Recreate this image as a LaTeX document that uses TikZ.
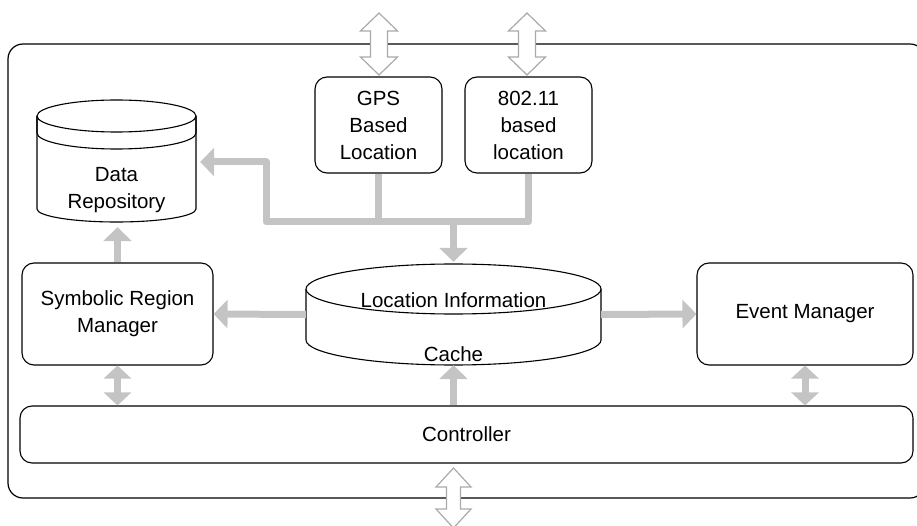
\documentclass[tikz,border=0pt]{standalone}
\usepackage{fontspec}
\setmainfont{Liberation Sans}
\usetikzlibrary{arrows.meta}
\definecolor{lgray}{RGB}{196,196,196}
\definecolor{ogray}{RGB}{170,170,170}
\begin{document}
\begin{tikzpicture}[x=1pt,y=-1pt,
  txt/.style={font=\fontsize{20.5}{27}\selectfont, align=center, inner sep=0pt},
  box/.style={draw, line width=1.1pt, rounded corners=12pt, fill=white, txt},
  ghost/.style={inner sep=0pt, draw=none},
  gline/.style={draw=lgray, line width=7pt, line join=round},
  garrow/.style={gline, -{Triangle[width=28pt,length=14pt]}},
  gdarrow/.style={gline, {Triangle[width=27pt,length=13pt]}-{Triangle[width=27pt,length=13pt]}},
  hollow/.style={draw=ogray, line width=1.2pt, fill=white, line join=miter}
]
\useasboundingbox (0,0) rectangle (917,526);

% outer frame
\draw[line width=1.2pt, rounded corners=15pt] (8,44) rectangle (925,498);

% nodes
\node[box, minimum width=127pt, minimum height=96pt] (gps) at (378.5,125) {GPS\\Based\\Location};
\node[box, minimum width=127pt, minimum height=96pt] (wifi) at (528.5,125) {802.11\\based\\location};
\node[box, minimum width=191pt, minimum height=102pt] (srm) at (117.5,314) {Symbolic Region\\Manager};
\node[box, minimum width=216pt, minimum height=102pt] (em) at (805,314) {Event Manager};
\node[box, minimum width=893pt, minimum height=57pt] (ctrl) at (466.5,434.5) {Controller};

% Data repository cylinder
\node[ghost, minimum width=159pt, minimum height=124pt] (datarep) at (116.5,162) {};
\draw[line width=1.1pt, fill=white] (37,116) -- (37,209)
  arc[start angle=180, end angle=0, x radius=79.5, y radius=13] -- (196,116);
\draw[line width=1.1pt, fill=white] (116.5,116) ellipse[x radius=79.5, y radius=16];
\draw[line width=1.1pt] (37,116) -- (37,133)
  arc[start angle=180, end angle=0, x radius=79.5, y radius=16] -- (196,116);
\node[txt] (datatxt) at (116.5,190) {Data\\Repository};

% Location information cache cylinder
\node[ghost, minimum width=295pt, minimum height=101pt] (cache) at (453.5,314.5) {};
\draw[line width=1.1pt, fill=white] (306,289) -- (306,340)
  arc[start angle=180, end angle=0, x radius=147.5, y radius=25] -- (601,289);
\draw[line width=1.1pt, fill=white] (453.5,289) ellipse[x radius=147.5, y radius=25];
\node[txt] (cachetop) at (453.5,300) {Location Information};
\node[txt] (cachebot) at (453.5,354) {Cache};

% gray connectors
\coordinate (busL) at (266,222);
\coordinate (busM) at (453.5,222);
\draw[garrow] (wifi.south) -- (wifi.south |- busL) -- (busL) |- ([xshift=4pt]datarep.east);
\draw[gline] (gps.south) -- (gps.south |- busL);
\draw[garrow] (busM) -- ([yshift=2pt]cache.north);
\draw[garrow] (cache.west) -- (srm.east);
\draw[garrow] (cache.east) -- (em.west);
\draw[garrow] (cache.south |- ctrl.north) -- (cache.south);
\draw[garrow] (srm.north) -- ([yshift=-3pt]srm.north |- datarep.south);
\draw[gdarrow] (srm.south) -- (srm.south |- ctrl.north);
\draw[gdarrow] (em.south) -- (em.south |- ctrl.north);

% hollow double arrows
\draw[hollow] (379,13) -- (397.5,31) -- (387.5,31) -- (387.5,57) -- (397.5,57) -- (379,75)
  -- (360.5,57) -- (370.5,57) -- (370.5,31) -- (360.5,31) -- cycle;
\draw[hollow] (527,13) -- (545.5,31) -- (535.5,31) -- (535.5,57) -- (545.5,57) -- (527,75)
  -- (508.5,57) -- (518.5,57) -- (518.5,31) -- (508.5,31) -- cycle;
\draw[hollow] (453.5,468) -- (471,487) -- (460.5,487) -- (460.5,509) -- (471,509) -- (453.5,528)
  -- (436,509) -- (446.5,509) -- (446.5,487) -- (436,487) -- cycle;
\end{tikzpicture}
\end{document}
